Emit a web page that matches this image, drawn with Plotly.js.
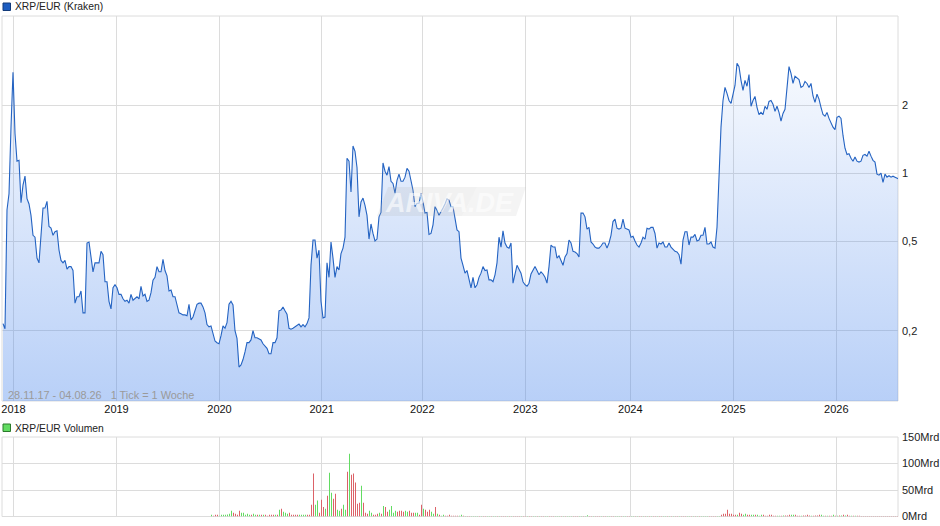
<!DOCTYPE html>
<html><head><meta charset="utf-8">
<script src="https://cdn.plot.ly/plotly-3.0.1.min.js"></script>
<style>html,body{margin:0;padding:0;background:#fff}#c{width:940px;height:526px}</style>
</head><body><div id="c"></div>
<script>
// weekly closes, one per sample ("1 Tick = 1 Woche")
const prices2018 = [.215,.204,.686,.81,1.6,2.8,1.5,1.13,1.14,.74,.885,.97,.77,.73,.65,.53,.52,.42,.40,.52,.70,.70,.75,.58,.57,.53,.55,.555,.456,.41,.40,.41,.375,.385,.385,.37,.265,.283,.283,.30,.24,.24,.49,.495,.43,.365,.40,.40,.40,.45,.435,.33,.33,.27,.25];
const prices2019 = [.31,.32,.31,.29,.29,.277,.27,.273,.265,.29,.273,.278,.283,.277,.315,.285,.29,.27,.273,.295,.335,.345,.385,.365,.365,.415,.37,.35,.30,.303,.283,.283,.26,.24,.238,.235,.235,.233,.262,.223,.23,.247,.262,.265,.265,.255,.24,.213,.208,.21,.195,.18,.177,.175];
const prices2020 = [.19,.21,.205,.217,.262,.27,.26,.20,.185,.138,.141,.149,.161,.177,.177,.182,.20,.186,.186,.184,.182,.175,.17,.167,.158,.158,.177,.177,.186,.245,.247,.255,.245,.237,.205,.203,.205,.208,.21,.214,.208,.213,.208,.215,.228,.39,.505,.505,.42,.455];
const prices2021 = [.27,.228,.23,.40,.345,.495,.42,.345,.385,.372,.44,.465,.52,1.165,1.13,.825,1.32,1.25,1.06,.64,.745,.775,.72,.65,.51,.595,.54,.50,.51,.64,.67,1.11,1.02,.98,1.07,.92,.90,.815,.93,.99,.92,.92,.96,1.05,1.02,.93,.84,.71,.735,.735];
const prices2022 = [.815,.745,.665,.67,.535,.54,.59,.71,.685,.65,.67,.70,.73,.77,.76,.71,.71,.63,.56,.55,.42,.39,.36,.37,.34,.31,.345,.31,.32,.345,.36,.385,.37,.372,.336,.336,.33,.354,.40,.52,.47,.555,.49,.47,.465,.49,.325,.354,.39,.375,.36];
const prices2023 = [.33,.32,.315,.325,.357,.37,.385,.37,.354,.365,.357,.345,.325,.385,.48,.47,.47,.42,.43,.41,.39,.425,.44,.505,.49,.45,.447,.44,.425,.665,.665,.64,.565,.575,.495,.485,.47,.465,.465,.475,.49,.49,.465,.49,.53,.61,.625,.57,.565,.57,.625];
const prices2024 = [.57,.565,.56,.52,.525,.50,.48,.47,.49,.52,.51,.57,.565,.575,.575,.54,.465,.49,.485,.495,.47,.47,.49,.47,.46,.45,.447,.435,.395,.505,.55,.55,.48,.52,.52,.535,.50,.505,.53,.53,.575,.485,.485,.495,.47,.465,.575,1.03,1.6,2.1];
const prices2025 = [2.4,2.26,2.1,2.04,2.28,2.45,3.07,2.97,2.58,2.33,2.58,2.43,2.74,1.98,2.1,2.19,1.96,1.82,1.86,1.82,1.98,1.92,2.08,2.1,2.02,1.88,1.98,1.86,1.7,1.84,1.92,2.5,2.97,2.77,2.5,2.69,2.63,2.6,2.4,2.43,2.55,2.5,2.4,2.5,2.2,2.06,2.24,2.13,1.96,1.82,1.79,1.86,1.75,1.67,1.6,1.56];
const prices2026 = [1.77,1.79,1.75,1.47,1.29,1.21,1.22,1.165,1.13,1.18,1.13,1.12,1.13,1.2,1.21,1.19,1.25,1.19,1.14,1.12,.99,.98,1.0,.91,.99,.96,.975,.96,.97,.96,.95,.94,.93];
const prices = [].concat(prices2018,prices2019,prices2020,prices2021,prices2022,prices2023,prices2024,prices2025,prices2026);

const volumeStartWeek = 104;
const volumesA = [3.2,1.3,3.2,3.2,1.3,3.2,3.2,3.2,4,5,10.7,7,5,3.2,10.7,7,7,3.2,5,3.2,3.2,5,3.2,3.2,3.2,3.2,3.2,3.2,1.3,3.2,3.2,3.2,3.2,3.2,12.6,14.5,9,7,5,7,3.2,3.2,3.2,3.2,3.2,3.2,3.2,3.2,3.2,3.2,22,81,22,30,7,31.5,18,14.5,39,82.5,45,33.4,43,12.6,10.7,14.5,22,12.6,84.5,118.5,79,81,64,24,26,58,26,7,5,10.7,7,3.2,3.2,5,7,5,20,18,9,12.6,20,7,10.7,9,10.7,10.7,9,10.7,9,10.7,7,7,7,7,3.2,22,14.5,12.6,9,12.6,9,5,18,5,3.2,1.3,3.2,1.3,1.3,3.2,1.3,1.3,1.3,1.3,1.3,3.2,1.3];
const directionsA = "grrrgggggggrrrrgggggrggrgrgrrrrrgrgrgggrrrrrggggrrrrggrrrgrggrrggrggrgrrrrrgrrrggrrrgrgrrggggrrrrggrrrggrrgrrrggrgrggrrrrrr".split('');
const volumesB = [1,1,1,.8,1,1,1,1,1,1,.8,1,1,1,1,1,1,1,1,1,1,.8,1,1,1,1,1,1,1,1,.8,1,1,1,1,1,1,1,1,1,1,1,1,1,1,1,1,.8,1,1,1,1,1,1,1,1,1,1,1,1,1,2.5,1,1,1,1,1,1,1,1,1,1,1,.8,1,1,1,1,1,1,1,1,1,1,1,1,1,1,1,1,1,1,1,1,1,1,1,1,1,1,1,1,1,1,1,1,1,1,1,1,1,1,1,1,1,1,1,1,1,1,1,1,1,1,1,1,1,1];
const directionsB = "rggrgrrggggrgrrggrggrgrrrgrgrrrrgrrgrrggrgrrggrrrgggrgrgggrrrggrggrrgrrrgrrggrrgggrggrrggrgrrgrgrgrrgrrggrgrgrrgrrrggrgrgr".split('');
const volumesC = [3.2,5,5,12.6,5,5,3.2,3.2,3.2,7,5,3.2,5,3.2,3.2,3.2,3.2,3.2,3.2,1.3,3.2,3.2,1.3,1.3,3.2,3.2,1.3,1.3,1.3,1.3,1.3,2,2,2,3.2,3.2,3.2,3.2,1.3,1.3,1.3,2,2,3.2,2,1.3,1.3,2,2,3.2,3.2,1.3,1.3,1.3,1.3,1.3,3.2,1.3,1.3,2,2,3.2,2,3.2,1.3,1.3,1.3,1.3,1.3,1.3,1,1,1,1,1,1,1,1,1,1,1,1,1,1,1,1,1,1,1,1];
const directionsC = "gggg rrrrg grrrrrrrrg rrggrrggrg ggrrrrrrrg grgrrrggrr rgrrrrgrrr rggrgrrgrg rgrgrrgrgr".replace(/ /g,'').split('');
const volumes = [].concat(volumesA,volumesB,volumesC);
const directions = [].concat(directionsA,directionsB,directionsC);

const yearLabels = ["2018","2019","2020","2021","2022","2023","2024","2025","2026"];
const yearWeeks = [5.25,56.75,108.25,159.35,209.65,261.15,313.65,365.15,416.65];
const priceTicks = [2,1,0.5,0.2];
const priceLabels = ["2","1","0,5","0,2"];
const volumeTicks = [0,50,100,150];
const volumeLabels = ["0Mrd","50Mrd","100Mrd","150Mrd"];

const W=940,H=526, px=x=>x/W, py=y=>1-y/H;
const font="Liberation Sans, Arial, sans-serif";
const grid="#dcdcdc";
const upColor='#62dc62', downColor='#dc6268';
const weeks = prices.map((_,i)=>i);
const volWeeks = volumes.map((_,i)=>i+volumeStartWeek);
const pick = d => { const xs=[],ys=[]; volumes.forEach((v,i)=>{ if((directions[i]||'r')===d){xs.push(volWeeks[i]);ys.push(v);} }); return {x:xs,y:ys}; };
const up=pick('g'), down=pick('r');

const traces=[
 {type:'scatter',mode:'lines',x:weeks,y:prices,xaxis:'x',yaxis:'y',fill:'tozeroy',
  line:{color:'#2463c2',width:1.1,shape:'linear'},
  fillgradient:{type:'vertical',start:0.097,stop:4.95,colorscale:[[0,'rgba(68,130,235,0.38)'],[1,'rgba(68,130,235,0.0)']]},
  hoverinfo:'skip',showlegend:false},
 {type:'bar',x:up.x,y:up.y,xaxis:'x2',yaxis:'y2',width:0.5,offset:0,marker:{color:upColor,opacity:1,line:{width:0,color:upColor}},hoverinfo:'skip',showlegend:false},
 {type:'bar',x:down.x,y:down.y,xaxis:'x2',yaxis:'y2',width:0.5,offset:0,marker:{color:downColor,opacity:1,line:{width:0,color:downColor}},hoverinfo:'skip',showlegend:false}
];
const xcommon={type:'linear',range:[-0.5,447.5],tickmode:'array',tickvals:yearWeeks,showgrid:true,gridcolor:grid,gridwidth:1,
  zeroline:false,showline:false,ticks:''};
const layout={
 width:W,height:H,autosize:false,margin:{l:0,r:0,t:0,b:0},paper_bgcolor:'#fff',plot_bgcolor:'#fff',
 font:{family:font,size:11,color:'#222'},barmode:'overlay',showlegend:false,
 xaxis:Object.assign({},xcommon,{domain:[px(2),px(898)],anchor:'y',ticktext:yearLabels,showticklabels:true,tickfont:{family:font,size:11,color:'#111'}}),
 xaxis2:Object.assign({},xcommon,{domain:[px(2),px(898)],anchor:'y2',ticktext:yearLabels,showticklabels:false}),
 yaxis:{type:'log',domain:[py(401),py(16)],range:[-1.0108,0.6972],side:'right',anchor:'x',tickmode:'array',tickvals:priceTicks,ticktext:priceLabels,ticklabelstandoff:3,
  showgrid:true,gridcolor:grid,zeroline:false,showline:false,ticks:'',tickfont:{family:font,size:11,color:'#222'}},
 yaxis2:{type:'linear',domain:[py(516.5),py(437)],range:[0,150],side:'right',anchor:'x2',tickmode:'array',tickvals:volumeTicks,ticktext:volumeLabels,ticklabelstandoff:3,
  showgrid:true,gridcolor:grid,zeroline:false,showline:false,ticks:'',tickfont:{family:font,size:11,color:'#222'}},
 shapes:[
  {type:'rect',xref:'paper',yref:'paper',x0:px(2),x1:px(898),y0:py(401),y1:py(16),line:{color:grid,width:1},layer:'below'},
  {type:'rect',xref:'paper',yref:'paper',x0:px(2),x1:px(898),y0:py(516.5),y1:py(437),line:{color:grid,width:1},layer:'below'},
  {type:'rect',xref:'paper',yref:'paper',x0:px(3),x1:px(10.5),y0:py(10.5),y1:py(3),fillcolor:'#1c5cc0',line:{color:'#123a7a',width:1}},
  {type:'rect',xref:'paper',yref:'paper',x0:px(3),x1:px(10.5),y0:py(431.5),y1:py(424),fillcolor:'#62dc62',line:{color:'#2a7a2a',width:1}},
  {type:'path',xref:'paper',yref:'paper',layer:'above',line:{width:0},fillcolor:'rgba(170,170,170,0.17)',
   path:`M${px(388)},${py(187)} L${px(477)},${py(187)} L${px(462)},${py(216)} L${px(377)},${py(216)} Z`},
  {type:'path',xref:'paper',yref:'paper',layer:'above',line:{width:0},fillcolor:'rgba(190,190,190,0.17)',
   path:`M${px(477)},${py(187)} L${px(526)},${py(187)} L${px(516)},${py(216)} L${px(462)},${py(216)} Z`}
 ],
 annotations:[
  {xref:'paper',yref:'paper',x:px(13),y:py(7),xanchor:'left',yanchor:'middle',showarrow:false,text:'XRP/EUR (Kraken)',font:{family:font,size:10.3,color:'#222'}},
  {xref:'paper',yref:'paper',x:px(13),y:py(428),xanchor:'left',yanchor:'middle',showarrow:false,text:'XRP/EUR Volumen',font:{family:font,size:10.3,color:'#222'}},
  {xref:'paper',yref:'paper',x:px(6),y:py(395),xanchor:'left',yanchor:'middle',showarrow:false,text:'28.11.17 - 04.08.26 &#160;&#160;1 Tick = 1 Woche',font:{family:font,size:10.9,color:'#9a9a9a'}},
  {xref:'paper',yref:'paper',x:px(449),y:py(203),xanchor:'center',yanchor:'middle',showarrow:false,text:'<b><i>ARIVA.DE</i></b>',font:{family:font,size:27,color:'rgba(255,255,255,0.6)'}}
 ]
};
Plotly.newPlot('c',traces,layout,{staticPlot:true,displayModeBar:false});
</script></body></html>
